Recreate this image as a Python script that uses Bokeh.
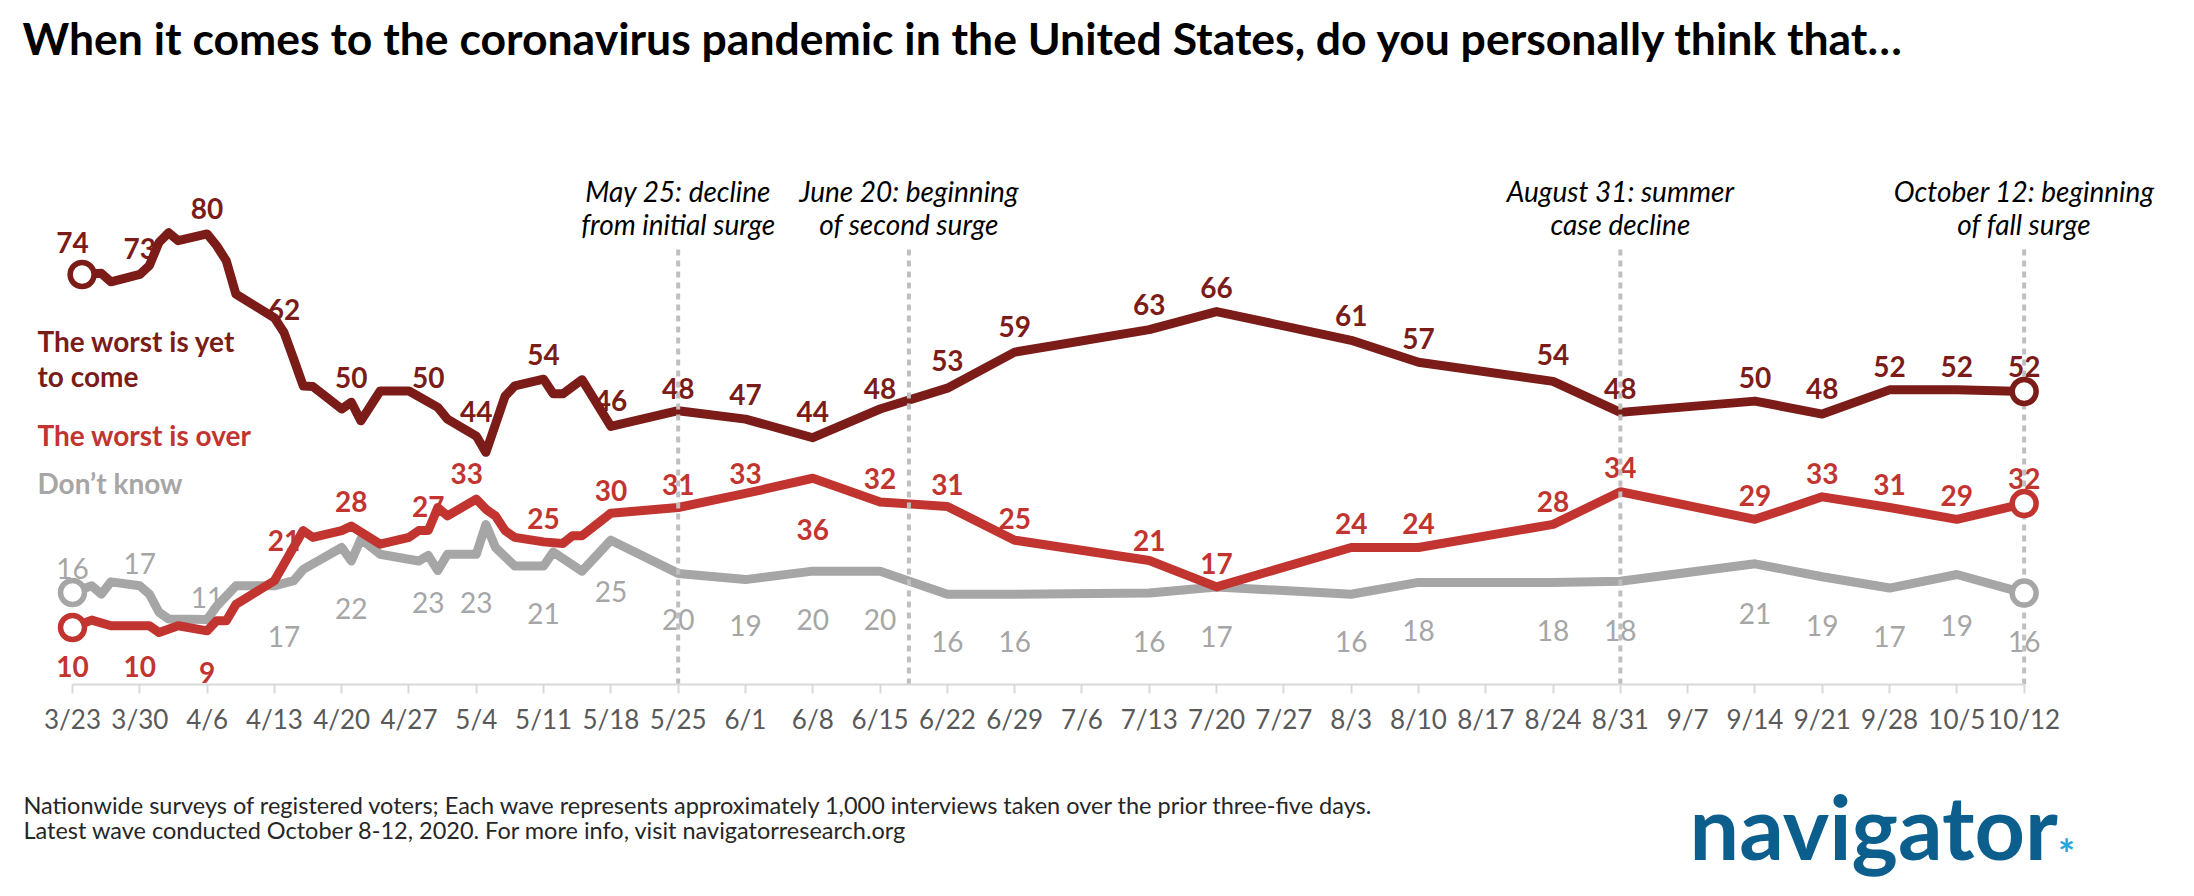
import pandas as pd
from bokeh.plotting import figure
from bokeh.layouts import column
from bokeh.models import Range1d, FixedTicker, Label
from bokeh.core.properties import value
from bokeh.embed import file_html
from bokeh.resources import INLINE

# ---------------- data ----------------
YEAR = 2020
START = "3/23"

tick_labels = ["3/23", "3/30", "4/6", "4/13", "4/20", "4/27", "5/4", "5/11", "5/18", "5/25",
               "6/1", "6/8", "6/15", "6/22", "6/29", "7/6", "7/13", "7/20", "7/27", "8/3",
               "8/10", "8/17", "8/24", "8/31", "9/7", "9/14", "9/21", "9/28", "10/5", "10/12"]

# "The worst is yet to come"
yet_dates = ["3/24", "3/26", "3/27", "3/30", "3/31", "4/1", "4/2", "4/3", "4/6", "4/7", "4/8", "4/9",
             "4/13", "4/14", "4/15", "4/16", "4/17", "4/20", "4/21", "4/22", "4/24", "4/27", "4/30", "5/1",
             "5/4", "5/5", "5/7", "5/8", "5/11", "5/12", "5/13", "5/15", "5/18", "5/25", "6/1", "6/8",
             "6/15", "6/22", "6/29", "7/13", "7/20", "8/3", "8/10", "8/24", "8/31", "9/14", "9/21",
             "9/28", "10/5", "10/12"]
yet_values = [73.1, 73.3, 71.8, 73.1, 74.7, 78.8, 80.5, 79.1, 80.3, 78.2, 75.5, 69.6,
              65.4, 62.8, 58.1, 53.3, 53.2, 49.2, 50.4, 47.1, 52.4, 52.4, 49.5, 47.4,
              44.4, 41.5, 51.5, 53.3, 54.5, 51.9, 51.9, 54.4, 46.1, 48.9, 47.4, 44.1,
              49.2, 52.9, 59.3, 63.3, 66.5, 61.4, 57.5, 54.1, 48.6, 50.6, 48.3,
              52.6, 52.6, 52.3]

# "The worst is over"
over_dates = ["3/23", "3/25", "3/27", "3/31", "4/1", "4/3", "4/6", "4/7", "4/8", "4/9", "4/13", "4/16",
              "4/17", "4/20", "4/21", "4/24", "4/27", "4/28", "4/29", "4/30", "5/1", "5/4", "5/5", "5/6",
              "5/7", "5/8", "5/11", "5/13", "5/14", "5/15", "5/18", "5/25", "6/1", "6/8", "6/15", "6/22",
              "6/29", "7/13", "7/20", "8/3", "8/10", "8/24", "8/31", "9/14", "9/21", "9/28", "10/5", "10/12"]
over_values = [10.4, 11.7, 10.7, 10.7, 9.5, 10.7, 9.8, 11.6, 11.6, 14.5, 18.7, 27.6,
               26.4, 27.6, 28.4, 25.2, 26.4, 27.6, 27.6, 31.7, 30.2, 33.2, 31.4, 30.2,
               27.6, 26.4, 25.6, 25.3, 26.7, 26.7, 30.7, 31.7, 34.2, 36.9, 32.7, 31.9,
               25.9, 22.3, 17.6, 24.6, 24.6, 28.7, 34.5, 29.6, 33.6, 31.7, 29.6, 32.4]

# "Don't know"
dont_dates = ["3/23", "3/25", "3/26", "3/27", "3/30", "3/31", "4/1", "4/2", "4/6", "4/7", "4/9", "4/13",
              "4/15", "4/16", "4/20", "4/21", "4/22", "4/24", "4/28", "4/29", "4/30", "5/1", "5/4", "5/5",
              "5/6", "5/8", "5/11", "5/12", "5/15", "5/18", "5/25", "6/1", "6/8", "6/15", "6/22", "6/29",
              "7/13", "7/20", "8/3", "8/10", "8/24", "8/31", "9/14", "9/21", "9/28", "10/5", "10/12"]
dont_values = [16.6, 17.8, 16.3, 18.5, 17.8, 16.3, 13.1, 11.9, 11.8, 14.2, 17.8, 17.8,
               18.7, 20.7, 24.6, 22.2, 26.1, 23.4, 22.2, 23.2, 20.5, 23.4, 23.4, 28.7,
               24.6, 21.3, 21.3, 23.8, 20.4, 25.9, 20.0, 18.9, 20.4, 20.4, 16.3, 16.3,
               16.5, 17.6, 16.3, 18.4, 18.4, 18.6, 21.7, 19.4, 17.4, 19.8, 16.5]

# value labels (position: "above", "below" or "near" = just below)
yet_label_dates = ["3/23", "3/30", "4/6", "4/14", "4/21", "4/29", "5/4", "5/11", "5/18", "5/25", "6/1",
                   "6/8", "6/15", "6/22", "6/29", "7/13", "7/20", "8/3", "8/10", "8/24", "8/31",
                   "9/14", "9/21", "9/28", "10/5", "10/12"]
yet_labels = [74, 73, 80, 62, 50, 50, 44, 54, 46, 48, 47, 44, 48, 53, 59, 63, 66, 61, 57, 54, 48,
              50, 48, 52, 52, 52]
yet_label_pos = ["above"] * 26

over_label_dates = ["3/23", "3/30", "4/6", "4/14", "4/21", "4/29", "5/3", "5/11", "5/18", "5/25", "6/1",
                    "6/8", "6/15", "6/22", "6/29", "7/13", "7/20", "8/3", "8/10", "8/24", "8/31",
                    "9/14", "9/21", "9/28", "10/5", "10/12"]
over_labels = [10, 10, 9, 21, 28, 27, 33, 25, 30, 31, 33, 36, 32, 31, 25, 21, 17, 24, 24, 28, 34,
               29, 33, 31, 29, 32]
over_label_pos = ["near", "near", "near"] + ["above"] * 8 + ["below"] + ["above"] * 14

dont_label_dates = ["3/23", "3/30", "4/6", "4/14", "4/21", "4/29", "5/4", "5/11", "5/18", "5/25", "6/1",
                    "6/8", "6/15", "6/22", "6/29", "7/13", "7/20", "8/3", "8/10", "8/24", "8/31",
                    "9/14", "9/21", "9/28", "10/5", "10/12"]
dont_labels = [16, 17, 11, 17, 22, 23, 23, 21, 25, 20, 19, 20, 20, 16, 16, 16, 17, 16, 18, 18, 18,
               21, 19, 17, 19, 16]
dont_label_pos = ["above"] * 3 + ["below"] * 23

# events (vertical dotted lines)
event_dates = ["5/25", "6/18", "8/31", "10/12"]
event_line1 = ["May 25: decline", "June 20: beginning", "August 31: summer", "October 12: beginning"]
event_line2 = ["from initial surge", "of second surge", "case decline", "of fall surge"]

series_names = ["The worst is yet", "to come", "The worst is over", "Don\u2019t know"]
title_text = "When it comes to the coronavirus pandemic in the United States, do you personally think that\u2026"
footer_lines = ["Nationwide surveys of registered voters; Each wave represents approximately 1,000 interviews taken over the prior three-five days.",
                "Latest wave conducted October 8-12, 2020. For more info, visit navigatorresearch.org"]
logo_text = "navigator"

# ---------------- helpers ----------------
t0 = pd.Timestamp(f"{YEAR}-{START.replace('/', '-')}")


def to_days(md_list):
    return [(pd.Timestamp(f"{YEAR}-{md.split('/')[0]}-{md.split('/')[1]}") - t0).days for md in md_list]


tick_days = to_days(tick_labels)

# ---------------- style / layout ----------------
DARK = "#7B1C18"
RED = "#C2342F"
GREY = "#A6A6A6"
FONT = "Lato"

W = 2178
H1 = 752            # main figure: page y 8 .. 760
FRAME_H = 684       # frame: page y 8 .. 692
H2 = 128            # footer figure: page y 760 .. 888
PX_DAY = 9.614
PX_VAL = 5.63
X0 = (8 - 80) / PX_DAY
X1 = X0 + W / PX_DAY
Y0 = (693.5 - (8 + FRAME_H)) / PX_VAL
Y1 = Y0 + FRAME_H / PX_VAL


def sx(page_x):
    return page_x - 8


def sy(page_y):
    return (8 + FRAME_H) - page_y


p = figure(width=W, height=H1, x_range=Range1d(X0, X1), y_range=Range1d(Y0, Y1),
           output_backend="svg", toolbar_location=None,
           min_border_left=0, min_border_right=0, min_border_top=0,
           min_border_bottom=H1 - FRAME_H)
p.outline_line_color = None
p.grid.visible = False
p.yaxis.visible = False
p.background_fill_color = "white"
p.border_fill_color = "white"

ax = p.xaxis[0]
ax.ticker = FixedTicker(ticks=tick_days)
ax.major_label_overrides = {d: lab for d, lab in zip(tick_days, tick_labels)}
ax.bounds = (tick_days[0], tick_days[-1])
ax.axis_line_color = "#D9D9D9"
ax.axis_line_width = 2
ax.major_tick_line_color = "#D9D9D9"
ax.major_tick_line_width = 2
ax.major_tick_in = 0
ax.major_tick_out = 9
ax.minor_tick_line_color = None
ax.major_label_text_font = FONT
ax.major_label_text_font_size = "26px"
ax.major_label_text_color = "#595959"
ax.major_label_standoff = 9

SERIES = [(dont_dates, dont_values, GREY), (over_dates, over_values, RED), (yet_dates, yet_values, DARK)]

# lines
for dates, vals, col in SERIES:
    p.line(to_days(dates), vals, line_color=col, line_width=9, line_join="round", line_cap="round")

# value labels
OFFSETS = {"above": -27, "below": 46, "near": 37}


def add_labels(dates, labels, pos, col, style):
    d = to_days(dates)
    for key, off in OFFSETS.items():
        xs = [x for x, k in zip(d, pos) if k == key]
        ys = [v for v, k in zip(labels, pos) if k == key]
        if not xs:
            continue
        p.text(xs, ys, text=[str(v) for v in ys], y_offset=off, text_align="center",
               text_baseline="alphabetic", text_font=value(FONT), text_font_size="28px",
               text_font_style=style, text_color=col)


add_labels(yet_label_dates, yet_labels, yet_label_pos, DARK, "bold")
add_labels(over_label_dates, over_labels, over_label_pos, RED, "bold")
add_labels(dont_label_dates, dont_labels, dont_label_pos, GREY, "normal")

# event markers
ev = to_days(event_dates)
top_val = (693.5 - 253) / PX_VAL
p.segment(x0=ev, y0=[Y0] * len(ev), x1=ev, y1=[top_val] * len(ev), line_color="#BFBFBF",
          line_width=4, line_dash="6 5")
for txt, off in [(event_line1, 190), (event_line2, 223)]:
    p.text(ev, [Y1] * len(ev), text=txt, y_offset=off, text_align="center",
           text_baseline="alphabetic", text_font=value(FONT), text_font_size="28px",
           text_font_style="italic", text_color="black")

# start / end open circles
for dates, vals, col in SERIES:
    d = to_days(dates)
    p.scatter([d[0], d[-1]], [vals[0], vals[-1]], size=24, marker="circle", fill_color="white",
              line_color=col, line_width=5.5)

# series names (direct legend)
for txt, py, col in [(series_names[0], 348, DARK), (series_names[1], 383, DARK),
                     (series_names[2], 442, RED), (series_names[3], 490, GREY)]:
    p.add_layout(Label(x=sx(45), y=sy(py), x_units="screen", y_units="screen", text=txt,
                       text_font=FONT, text_font_size="28px", text_font_style="bold",
                       text_color=col, text_baseline="alphabetic"))

# title
p.add_layout(Label(x=sx(30), y=sy(45), x_units="screen", y_units="screen", text=title_text,
                   text_font=FONT, text_font_size="44.5px", text_font_style="bold",
                   text_color="black", text_baseline="alphabetic"))

# ---------------- footer strip (y measured up from the page bottom 888) ----------------
PAGE_BOTTOM = 760 + H2
f = figure(width=W, height=H2, x_range=Range1d(8, 8 + W), y_range=Range1d(0, H2),
           output_backend="svg", toolbar_location=None, x_axis_location=None, y_axis_location=None,
           min_border_left=0, min_border_right=0, min_border_top=0, min_border_bottom=0)
f.outline_line_color = None
f.grid.visible = False
f.background_fill_color = "white"
f.border_fill_color = "white"


def fy(page_y):
    return PAGE_BOTTOM - page_y


f.text([31, 31], [fy(812), fy(837)], text=footer_lines, text_baseline="alphabetic", text_align="left",
       text_font=value(FONT), text_font_size="23.5px", text_color="#262626")
f.text([1697], [fy(833)], text=[logo_text], text_baseline="alphabetic", text_align="left",
       text_font=value(FONT), text_font_size="88px", text_font_style="bold", text_color="#0C5E8D")
f.text([2074], [fy(861)], text=["*"], text_baseline="alphabetic", text_align="center",
       text_font=value(FONT), text_font_size="40px", text_font_style="bold", text_color="#2AA4DA")

layout = column(p, f, spacing=0)
open("out.html", "w").write(file_html(layout, INLINE))
